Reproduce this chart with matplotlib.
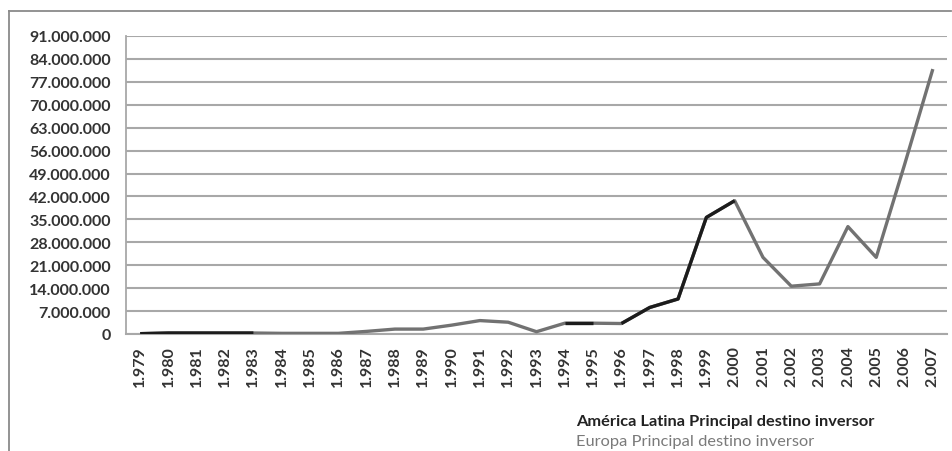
import numpy as np
import matplotlib.pyplot as plt
from matplotlib.lines import Line2D
from matplotlib.ticker import FuncFormatter

years = [1979, 1980, 1981, 1982, 1983, 1984, 1985, 1986, 1987, 1988,
         1989, 1990, 1991, 1992, 1993, 1994, 1995, 1996, 1997, 1998,
         1999, 2000, 2001, 2002, 2003, 2004, 2005, 2006, 2007]
# inversion total por año
valores = [0.1e6, 0.3e6, 0.3e6, 0.3e6, 0.3e6, 0.2e6, 0.2e6, 0.2e6, 0.8e6, 1.5e6,
           1.5e6, 2.7e6, 4.1e6, 3.6e6, 0.7e6, 3.3e6, 3.3e6, 3.2e6, 8.1e6, 10.7e6,
           35.6e6, 40.7e6, 23.4e6, 14.6e6, 15.3e6, 32.8e6, 23.4e6, 51.7e6, 80.9e6]
# tramos en que America Latina es el destino principal (indices inicio, fin)
tramos_al = [(0, 4), (15, 16), (17, 21)]

year_labels = [str(y)[0] + '.' + str(y)[1:] for y in years]

plt.rcParams['font.family'] = ['Lato', 'DejaVu Sans']

fig = plt.figure(figsize=(9.52, 4.52), dpi=100)
ax = fig.add_axes([126 / 952, 1 - 335 / 452, (947 - 126) / 952, (335 - 37) / 452])

x = np.arange(len(years))
gris = '#727272'
negro = '#1c1c1c'

# toda la serie en gris (Europa) y encima los tramos de America Latina
ax.plot(x, valores, color=gris, lw=2.4, solid_capstyle='butt', zorder=3)
for a, b in tramos_al:
    ax.plot(x[a:b + 1], valores[a:b + 1], color=negro, lw=2.4,
            solid_capstyle='butt', zorder=4)

ax.set_xlim(-0.5, len(years) - 0.5)
ax.set_ylim(0, 91e6)
ax.set_yticks(np.arange(0, 91e6 + 1, 7e6))
ax.yaxis.set_major_formatter(FuncFormatter(
    lambda v, p: '0' if v == 0 else '{:,.0f}'.format(v).replace(',', '.')))
ax.set_xticks(x)
ax.set_xticklabels(year_labels, rotation=90)

ax.grid(axis='y', color='#a8a8a8', lw=1.5)
ax.set_axisbelow(True)
for s in ['top', 'right']:
    ax.spines[s].set_visible(False)
ax.spines['left'].set_color('#a8a8a8')
ax.spines['bottom'].set_color('#a8a8a8')
ax.spines['left'].set_linewidth(1.3)
ax.spines['bottom'].set_linewidth(1.5)
ax.tick_params(axis='y', length=0, pad=11, labelsize=11.5, labelcolor='#333333')
ax.tick_params(axis='x', length=0, pad=8, labelsize=11.5, labelcolor='#333333')
for lab in ax.get_yticklabels() + ax.get_xticklabels():
    lab.set_fontweight('bold')

# marco exterior
fig.add_artist(Line2D([9 / 952, 951 / 952], [1 - 12 / 452] * 2, color='#8a8a8a', lw=1.3))
fig.add_artist(Line2D([9 / 952] * 2, [1 - 12 / 452, 0], color='#8a8a8a', lw=1.3))

fig.text(576 / 952, 1 - 422 / 452, 'América Latina Principal destino inversor',
         fontsize=11.8, fontweight='bold', color='#222222', va='center')
fig.text(576 / 952, 1 - 442 / 452, 'Europa Principal destino inversor',
         fontsize=11.8, color='#7a7a7a', va='center')

fig.savefig('out.png', dpi=100, facecolor='white')
